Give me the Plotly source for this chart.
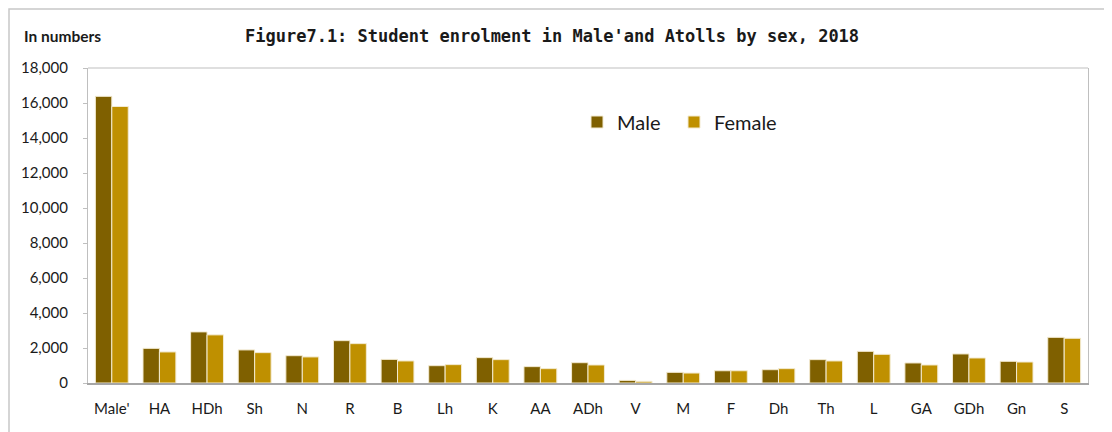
import plotly.graph_objects as go

categories = ["Male'", "HA", "HDh", "Sh", "N", "R", "B", "Lh", "K", "AA", "ADh",
              "V", "M", "F", "Dh", "Th", "L", "GA", "GDh", "Gn", "S"]
male = [16380, 1980, 2920, 1890, 1560, 2420, 1350, 990, 1450, 935, 1160,
        150, 610, 700, 760, 1335, 1810, 1145, 1660, 1240, 2610]
female = [15800, 1775, 2750, 1735, 1490, 2250, 1260, 1050, 1335, 820, 1030,
          95, 570, 700, 820, 1260, 1640, 1030, 1430, 1200, 2555]
y_ticks = [0, 2000, 4000, 6000, 8000, 10000, 12000, 14000, 16000, 18000]

title_text = "Figure7.1: Student enrolment in Male'and Atolls by sex, 2018"
unit_text = "In numbers"

MALE_C = "#7f6000"
FEMALE_C = "#bf9000"

fig = go.Figure()
fig.add_trace(go.Bar(x=categories, y=male, name="Male", legend="legend",
                     marker=dict(color=MALE_C, line=dict(color="#f3ead0", width=1))))
fig.add_trace(go.Bar(x=categories, y=female, name="Female", legend="legend2",
                     marker=dict(color=FEMALE_C, line=dict(color="#f3ead0", width=1))))

# the page body has an 8px margin; the figure is offset by it
OFF = 8
W, H = 1112, 432
L, R, T, B = 80, 32, 60, 57
pw, ph = W - L - R, H - T - B

def px_x(x):  # page x -> paper x
    return (x - OFF - L) / pw

def px_y(y):  # page y -> paper y
    return (H - B - (y - OFF)) / ph

leg_common = dict(orientation="h", yanchor="middle", xanchor="left",
                  font=dict(size=20, color="#1a1a1a"), bgcolor="rgba(0,0,0,0)",
                  itemclick=False, itemdoubleclick=False)

fig.update_layout(
    width=W, height=H,
    margin=dict(l=L, r=R, t=T, b=B),
    paper_bgcolor="white", plot_bgcolor="white",
    barmode="group", bargap=0.31, bargroupgap=0.0,
    font=dict(family="Lato, 'Open Sans', sans-serif", size=15, color="#1a1a1a"),
    showlegend=True,
    legend=dict(x=px_x(577), y=px_y(122), **leg_common),
    legend2=dict(x=px_x(674), y=px_y(122), **leg_common),
    xaxis=dict(showline=True, linecolor="#a6a6a6", linewidth=1.5, mirror=False,
               ticks="", showgrid=False, ticklabelstandoff=11,
               tickfont=dict(size=15)),
    yaxis=dict(range=[0, 18000], tickvals=y_ticks, tickformat=",d",
               showline=True, linecolor="#bfbfbf", linewidth=1.2, mirror=True,
               ticks="outside", ticklen=4, tickcolor="#bfbfbf",
               showgrid=False, zeroline=False, ticklabelstandoff=12,
               tickfont=dict(size=15)),
    shapes=[
        dict(type="line", xref="paper", yref="paper", x0=0, x1=1, y0=1, y1=1,
             line=dict(color="#bfbfbf", width=1.2)),
        dict(type="rect", xref="paper", yref="paper",
             x0=px_x(9), x1=px_x(1140), y0=px_y(460), y1=px_y(9),
             line=dict(color="#c8c8c8", width=1.5)),
    ],
    annotations=[
        dict(text="<b>" + unit_text + "</b>", xref="paper", yref="paper",
             x=px_x(22), y=px_y(36), xanchor="left", yanchor="middle",
             showarrow=False, font=dict(size=15.5, family="Lato, sans-serif", color="#1a1a1a")),
        dict(text="<b>" + title_text + "</b>", xref="paper", yref="paper",
             x=px_x(552), y=px_y(36), xanchor="center", yanchor="middle",
             showarrow=False, font=dict(size=17, family="'DejaVu Sans Mono', monospace",
                                        color="#1a1a1a")),
    ],
)

fig.write_html("out.html")
